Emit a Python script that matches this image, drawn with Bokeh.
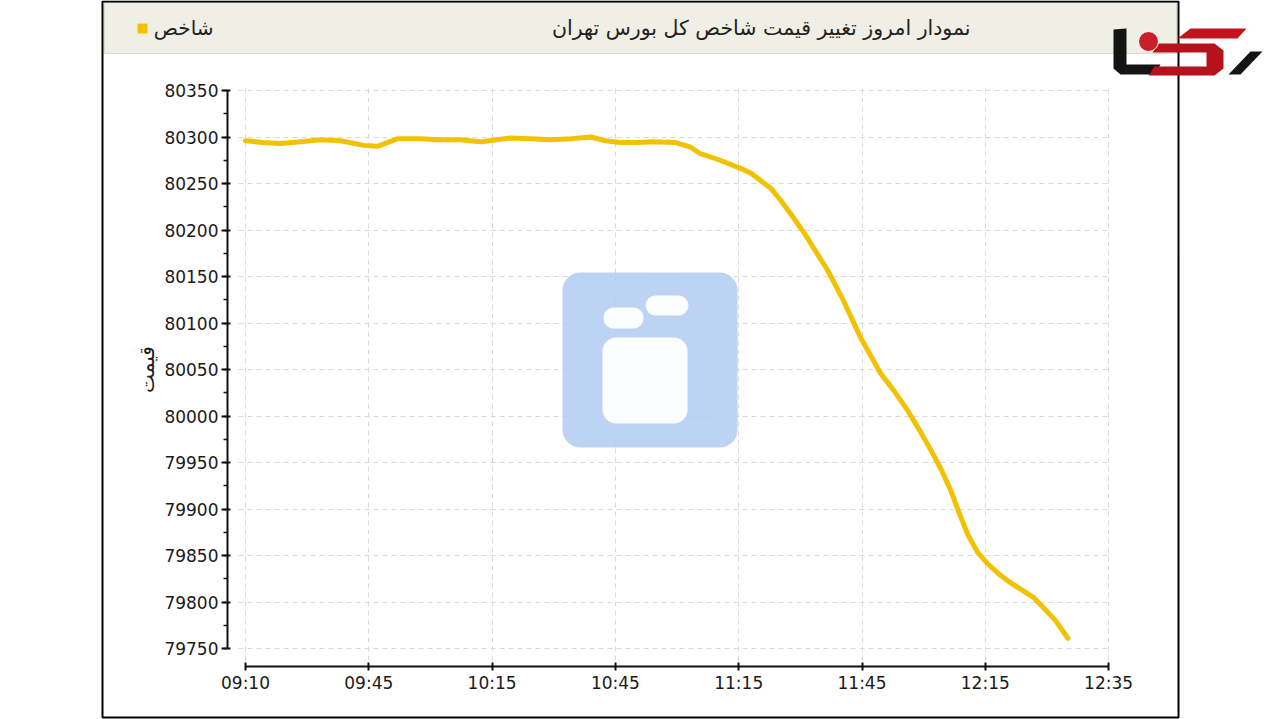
from bokeh.plotting import figure
from bokeh.models import (Range1d, FixedTicker, SingleIntervalTicker, BoxAnnotation,
                          PolyAnnotation, Label, ColumnDataSource)
from bokeh.embed import file_html
from bokeh.resources import INLINE

# ---------------- data ----------------
title_text = "نمودار امروز تغییر قیمت شاخص کل بورس تهران"
legend_text = "شاخص"
y_axis_title = "قیمت"
tick_labels = ["09:10", "09:45", "10:15", "10:45", "11:15", "11:45", "12:15", "12:35"]
y_ticks_min, y_ticks_max, y_tick_step = 79750, 80350, 50

# position along the (evenly spaced) time axis, in tick slots
slot = [0.00, 0.14, 0.28, 0.45, 0.61, 0.77, 0.96, 1.07, 1.23, 1.42, 1.56, 1.74, 1.91,
        2.04, 2.15, 2.31, 2.47, 2.64, 2.80, 2.92, 3.04, 3.18, 3.31, 3.49, 3.61, 3.69,
        3.85, 4.02, 4.10, 4.18, 4.26, 4.34, 4.44, 4.54, 4.62, 4.72, 4.85, 4.99, 5.07,
        5.15, 5.26, 5.37, 5.47, 5.56, 5.64, 5.72, 5.79, 5.86, 5.94, 6.02, 6.12, 6.18,
        6.26, 6.39, 6.47, 6.57, 6.67]
index_value = [80296, 80294, 80293, 80295, 80297, 80296, 80291, 80290, 80298, 80298,
               80297, 80297, 80295, 80297, 80299, 80298, 80297, 80298, 80300, 80296,
               80294, 80294, 80295, 80294, 80289, 80282, 80275, 80266, 80261, 80253,
               80245, 80232, 80214, 80195, 80178, 80157, 80124, 80084, 80065, 80046,
               80027, 80006, 79984, 79963, 79943, 79920, 79895, 79872, 79853, 79841,
               79829, 79823, 79816, 79805, 79794, 79780, 79761]

LINE = "#f2c200"
FONT = "DejaVu Sans"

W, H = 1280, 719
# pixel layout of the chart inside the page
X0_PX, SLOT_PX = 245.0, 123.3          # pixel of first tick, pixels per tick slot
Y_TOP_PX, Y_PER_UNIT = 90.0, 0.93      # pixel of top tick, pixels per index point
def sx2slot(px):
    return (px - X0_PX) / SLOT_PX
def py2val(py):
    return y_ticks_max - (py - Y_TOP_PX) / Y_PER_UNIT

p = figure(width=W, height=H, output_backend="svg", toolbar_location=None,
           x_range=Range1d(sx2slot(0), sx2slot(W)),
           y_range=Range1d(py2val(H), py2val(0)),
           min_border=0, min_border_left=0, min_border_right=0,
           min_border_top=0, min_border_bottom=0)
p.outline_line_color = None
p.background_fill_color = "white"
p.border_fill_color = "white"

# ---------------- axes ----------------
xa = p.xaxis[0]
xa.ticker = FixedTicker(ticks=list(range(len(tick_labels))))
xa.major_label_overrides = {i: t for i, t in enumerate(tick_labels)}
xa.bounds = (0, len(tick_labels) - 1)
xa.fixed_location = py2val(666)

ya = p.yaxis[0]
ya.ticker = SingleIntervalTicker(interval=y_tick_step, num_minor_ticks=2)
ya.bounds = (y_ticks_min, y_ticks_max)
ya.axis_label = y_axis_title
ya.fixed_location = sx2slot(227)

for ax in (xa, ya):
    ax.axis_line_color = "#111111"
    ax.axis_line_width = 2
    ax.major_tick_line_color = "#111111"
    ax.major_tick_line_width = 2
    ax.major_label_text_font = FONT
    ax.major_label_text_font_size = "17px"
    ax.major_label_text_color = "#1a1a1a"
    ax.axis_label_text_font = FONT
    ax.axis_label_text_font_size = "20px"
    ax.axis_label_text_font_style = "normal"
    ax.axis_label_text_color = "#1a1a1a"
xa.major_tick_in = 4
xa.major_tick_out = 4
xa.major_label_standoff = 2
xa.minor_tick_line_color = None
ya.major_tick_in = 3
ya.major_tick_out = 6
ya.major_label_standoff = 3
ya.minor_tick_line_color = "#111111"
ya.minor_tick_line_width = 1.5
ya.minor_tick_in = 0
ya.minor_tick_out = 4
ya.axis_label_standoff = 2

xg, yg = p.xgrid[0], p.ygrid[0]
for g in (xg, yg):
    g.grid_line_color = "#d9d9d9"
    g.grid_line_dash = "5 4"
    g.grid_line_width = 1

def cbox(l, r, t, b, **kw):
    return BoxAnnotation(left=l, right=r, top=t, bottom=b,
                         left_units="canvas", right_units="canvas",
                         top_units="canvas", bottom_units="canvas", **kw)

if "cross_bounds" in xg.properties():
    xg.cross_bounds = (py2val(660), py2val(88))
    yg.cross_bounds = (sx2slot(238), sx2slot(1110))
else:
    for (l, r, t, b) in [(0, 238, 0, H), (1110, W, 0, H), (0, W, 0, 88), (0, W, 660, H)]:
        p.add_layout(cbox(l, r, t, b, fill_color="white", fill_alpha=1,
                          line_color=None, level="underlay"))

# ---------------- watermark (under the line) ----------------
p.add_layout(cbox(562, 737, 272, 447, fill_color="#b0cbf1", fill_alpha=0.85,
                  line_color=None, border_radius=18, level="underlay"))
for (l, r, t, b, rad) in [(645, 688, 295, 315, 10), (603, 643, 307, 328, 10),
                          (602, 687, 337, 423, 14)]:
    p.add_layout(cbox(l, r, t, b, fill_color="white", fill_alpha=0.95,
                      line_color=None, border_radius=rad, level="underlay"))

# ---------------- series ----------------
src = ColumnDataSource(data=dict(x=slot, y=index_value))
p.line("x", "y", source=src, line_color=LINE, line_width=5,
       line_join="round", line_cap="round")

# ---------------- frame, header band, title, legend ----------------
p.add_layout(cbox(104, 1176, 2, 53, fill_color="#efefe5", fill_alpha=1,
                  line_color="#dadacf", line_alpha=1, line_width=1))
p.add_layout(cbox(102, 1178, 1, 717, fill_alpha=0, line_color="#000000",
                  line_alpha=1, line_width=2))
p.add_layout(Label(x=970, y=27, x_units="canvas", y_units="canvas", text=title_text,
                   text_align="right", text_baseline="middle", text_font=FONT,
                   text_font_size="20.5px", text_color="#222222"))
p.add_layout(cbox(137, 147, 23, 33, fill_color=LINE, fill_alpha=1,
                  line_color="#f8dc70", line_alpha=1, line_width=1))
p.add_layout(Label(x=213, y=27, x_units="canvas", y_units="canvas", text=legend_text,
                   text_align="right", text_baseline="middle", text_font=FONT,
                   text_font_size="20px", text_color="#222222"))

# ---------------- site logo (top right) ----------------
def poly(xs, ys, color):
    p.add_layout(PolyAnnotation(xs=xs, ys=ys, xs_units="canvas", ys_units="canvas",
                                fill_color=color, fill_alpha=1, line_color=None))

poly([1113, 1126, 1126, 1160, 1154, 1120, 1113], [29, 28, 64, 64, 74, 74, 68], "#141414")
poly([1190, 1246, 1237, 1177], [28, 28, 38, 38], "#c0141e")
poly([1158, 1214, 1223, 1223, 1214, 1148, 1154, 1206, 1206, 1152],
     [43, 43, 50, 68, 75, 75, 66, 66, 52, 52], "#b5121b")
poly([1250, 1262, 1240, 1228], [51, 51, 74, 74], "#141414")
p.add_layout(cbox(1138, 1158, 31, 51, fill_color="#c8202a", fill_alpha=1,
                  line_color="white", line_alpha=1, line_width=1, border_radius=10))

open("out.html", "w").write(file_html(p, INLINE))
